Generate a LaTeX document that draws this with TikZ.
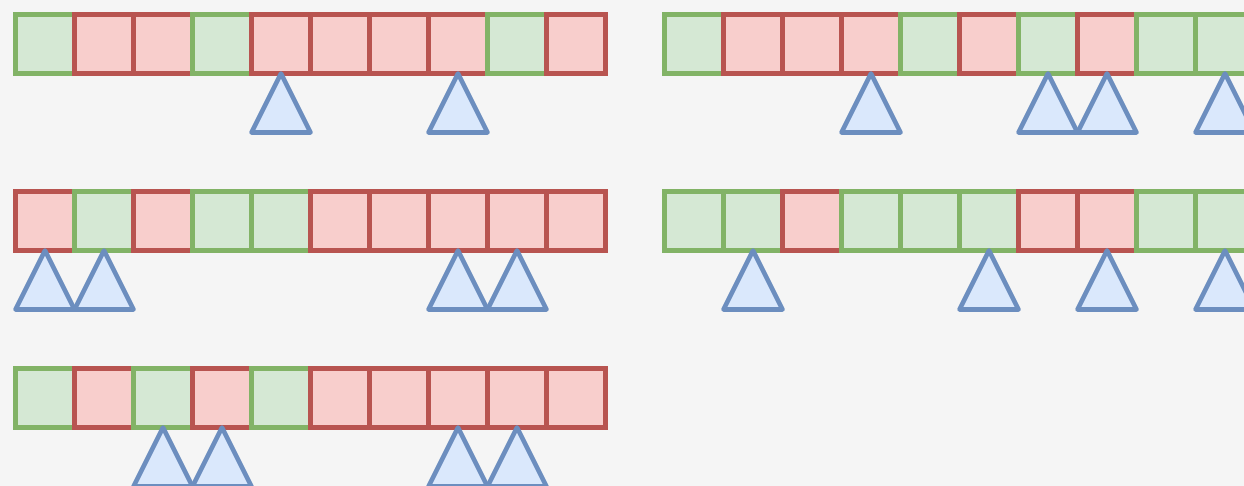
\documentclass[tikz,border=0pt]{standalone}
\definecolor{gfill}{HTML}{D5E8D4}
\definecolor{gline}{HTML}{82B366}
\definecolor{rfill}{HTML}{F8CECC}
\definecolor{rline}{HTML}{B85450}
\definecolor{bfill}{HTML}{DAE8FC}
\definecolor{bline}{HTML}{6C8EBF}
\definecolor{bgc}{HTML}{F5F5F5}
\tikzset{
  cell/.style={rectangle, inner sep=0pt, outer sep=0pt, minimum width=59pt, minimum height=59pt, line width=5pt, anchor=north west},
  g/.style={cell, fill=gfill, draw=gline},
  r/.style={cell, fill=rfill, draw=rline},
  tri/.style={fill=bfill, draw=bline, line width=4.6pt, line join=round}
}
\begin{document}
\begin{tikzpicture}[x=1pt,y=-1pt]
\fill[bgc] (0,0) rectangle (1244,486);
\useasboundingbox (0,0) rectangle (1244,486);
% row 1 left
\foreach \s [count=\i] in {g,r,r,g,r,r,r,r,g,r}
  \node[\s] (a\i) at ({15.5+(\i-1)*59},14.5) {};
% row 1 right
\foreach \s [count=\i] in {g,r,r,r,g,r,g,r,g,g}
  \node[\s] (b\i) at ({664.5+(\i-1)*59},14.5) {};
% row 2 left
\foreach \s [count=\i] in {r,g,r,g,g,r,r,r,r,r}
  \node[\s] (c\i) at ({15.5+(\i-1)*59},191.5) {};
% row 2 right
\foreach \s [count=\i] in {g,g,r,g,g,g,r,r,g,g}
  \node[\s] (d\i) at ({664.5+(\i-1)*59},191.5) {};
% row 3 left
\foreach \s [count=\i] in {g,r,g,r,g,r,r,r,r,r}
  \node[\s] (e\i) at ({15.5+(\i-1)*59},368.5) {};
% pointers
\foreach \n in {a5,a8,b4,b7,b8,b10,c1,c2,c8,c9,d2,d6,d8,d10,e3,e4,e8,e9}
  \draw[tri] (\n.south) -- ++(-29.5,59) -- ++(59,0) -- cycle;
\end{tikzpicture}
\end{document}
